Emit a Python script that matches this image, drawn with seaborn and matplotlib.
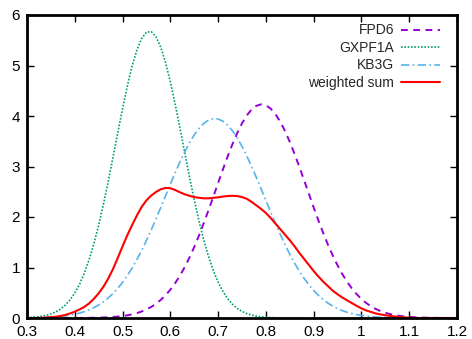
import matplotlib
matplotlib.use("Agg")
import matplotlib.pyplot as plt
import seaborn as sns
import pandas as pd

# x grid shared by all curves, 0.30 .. 1.20 in steps of 0.01
x = [round(0.30 + 0.01 * i, 2) for i in range(91)]

# values
fpd6 = [0.0, 0.0, 0.0, 0.0, 0.0, 0.0, 0.0, 0.0, 0.0, 0.0,
        0.001, 0.001, 0.002, 0.003, 0.005, 0.007, 0.010, 0.014, 0.020, 0.028,
        0.039, 0.053, 0.072, 0.097, 0.129, 0.169, 0.220, 0.283, 0.359, 0.451,
        0.560, 0.689, 0.837, 1.006, 1.196, 1.406, 1.635, 1.880, 2.137, 2.404,
        2.673, 2.941, 3.199, 3.442, 3.662, 3.854, 4.011, 4.128, 4.202, 4.230,
        4.211, 4.146, 4.038, 3.888, 3.703, 3.488, 3.249, 2.994, 2.727, 2.458,
        2.190, 1.930, 1.682, 1.450, 1.236, 1.043, 0.869, 0.717, 0.585, 0.472,
        0.376, 0.297, 0.231, 0.179, 0.136, 0.103, 0.077, 0.057, 0.041, 0.030,
        0.021, 0.015, 0.011, 0.007, 0.005, 0.003, 0.002, 0.001, 0.001, 0.0,
        0.0]

gxpf1a = [0.008, 0.013, 0.021, 0.034, 0.053, 0.080, 0.121, 0.177, 0.254, 0.358,
          0.495, 0.669, 0.889, 1.155, 1.473, 1.840, 2.253, 2.704, 3.183, 3.669,
          4.146, 4.593, 4.988, 5.307, 5.536, 5.660, 5.671, 5.569, 5.361, 5.058,
          4.678, 4.240, 3.766, 3.279, 2.798, 2.341, 1.919, 1.542, 1.215, 0.938,
          0.710, 0.526, 0.383, 0.273, 0.190, 0.130, 0.088, 0.057, 0.037, 0.023,
          0.015, 0.009, 0.005, 0.003, 0.002, 0.0, 0.0, 0.0, 0.0, 0.0,
          0.0, 0.0, 0.0, 0.0, 0.0, 0.0, 0.0, 0.0, 0.0, 0.0,
          0.0, 0.0, 0.0, 0.0, 0.0, 0.0, 0.0, 0.0, 0.0, 0.0,
          0.0, 0.0, 0.0, 0.0, 0.0, 0.0, 0.0, 0.0, 0.0, 0.0,
          0.0]

kb3g = [0.003, 0.004, 0.006, 0.009, 0.012, 0.017, 0.023, 0.032, 0.043, 0.057,
        0.075, 0.097, 0.126, 0.161, 0.205, 0.258, 0.321, 0.397, 0.485, 0.588,
        0.706, 0.840, 0.990, 1.157, 1.338, 1.535, 1.744, 1.963, 2.189, 2.419,
        2.648, 2.873, 3.087, 3.288, 3.469, 3.626, 3.756, 3.854, 3.919, 3.950,
        3.941, 3.897, 3.819, 3.708, 3.567, 3.399, 3.210, 3.003, 2.784, 2.557,
        2.327, 2.098, 1.874, 1.659, 1.454, 1.264, 1.088, 0.928, 0.784, 0.657,
        0.545, 0.448, 0.365, 0.294, 0.236, 0.186, 0.146, 0.114, 0.088, 0.067,
        0.051, 0.038, 0.028, 0.021, 0.015, 0.011, 0.008, 0.006, 0.004, 0.003,
        0.002, 0.001, 0.0, 0.0, 0.0, 0.0, 0.0, 0.0, 0.0, 0.0,
        0.0]

weighted = [0.0, 0.0, 0.0, 0.003, 0.010, 0.016, 0.025, 0.040, 0.060, 0.090,
            0.125, 0.170, 0.220, 0.290, 0.380, 0.490, 0.620, 0.780, 0.970, 1.190,
            1.420, 1.640, 1.840, 2.030, 2.200, 2.330, 2.425, 2.495, 2.550, 2.575,
            2.570, 2.535, 2.490, 2.450, 2.420, 2.395, 2.380, 2.370, 2.370, 2.380,
            2.390, 2.405, 2.415, 2.420, 2.415, 2.395, 2.360, 2.300, 2.230, 2.160,
            2.080, 1.980, 1.870, 1.760, 1.650, 1.540, 1.420, 1.290, 1.170, 1.050,
            0.930, 0.820, 0.720, 0.630, 0.540, 0.470, 0.405, 0.350, 0.295, 0.240,
            0.190, 0.150, 0.120, 0.090, 0.070, 0.055, 0.040, 0.030, 0.020, 0.012,
            0.005, 0.002, 0.0, 0.0, 0.0, 0.0, 0.0, 0.0, 0.0, 0.0,
            0.0]

xticks = [0.3, 0.4, 0.5, 0.6, 0.7, 0.8, 0.9, 1.0, 1.1, 1.2]
xticklabels = ["0.3", "0.4", "0.5", "0.6", "0.7", "0.8", "0.9", "1", "1.1", "1.2"]
yticks = [0, 1, 2, 3, 4, 5, 6]

sns.set_style("ticks", {"xtick.direction": "in", "ytick.direction": "in"})
plt.rcParams["font.family"] = ["Liberation Sans", "DejaVu Sans"]
plt.rcParams["xtick.top"] = True
plt.rcParams["ytick.right"] = True

df = pd.DataFrame({"x": x, "FPD6": fpd6, "GXPF1A": gxpf1a,
                   "KB3G": kb3g, "weighted sum": weighted})

fig = plt.figure(figsize=(4.72, 3.39), dpi=100)
ax = fig.add_axes([27 / 472, 21 / 339, 430 / 472, 303 / 339])

sns.lineplot(data=df, x="x", y="FPD6", ax=ax, color="#9400D3", lw=1.4,
             linestyle=(0, (3.5, 2.8)), label="FPD6")
sns.lineplot(data=df, x="x", y="GXPF1A", ax=ax, color="#009E73", lw=1.2,
             linestyle=(0, (1, 1)), label="GXPF1A")
sns.lineplot(data=df, x="x", y="KB3G", ax=ax, color="#56B4E9", lw=1.2,
             linestyle=(0, (5, 2, 1, 2)), label="KB3G")
sns.lineplot(data=df, x="x", y="weighted sum", ax=ax, color="#FF0000", lw=1.5,
             label="weighted sum")

ax.set_xlim(0.3, 1.2)
ax.set_ylim(0, 6)
ax.set_xticks(xticks)
ax.set_xticklabels(xticklabels)
ax.set_yticks(yticks)
ax.set_xlabel("")
ax.set_ylabel("")
ax.tick_params(axis="both", which="major", length=5, width=1, labelsize=11,
               colors="black")
ax.tick_params(axis="x", pad=5)
ax.tick_params(axis="y", pad=5)
for s in ax.spines.values():
    s.set_visible(True)
    s.set_linewidth(2)
    s.set_color("black")

leg = ax.legend(loc="upper right", bbox_to_anchor=(0.960, 0.972), frameon=False,
                markerfirst=False, fontsize=10, handlelength=2.8,
                handletextpad=0.5, labelspacing=0.25, borderpad=0,
                borderaxespad=0)
for t in leg.get_texts():
    t.set_ha("right")

fig.savefig("out.png", dpi=100)
